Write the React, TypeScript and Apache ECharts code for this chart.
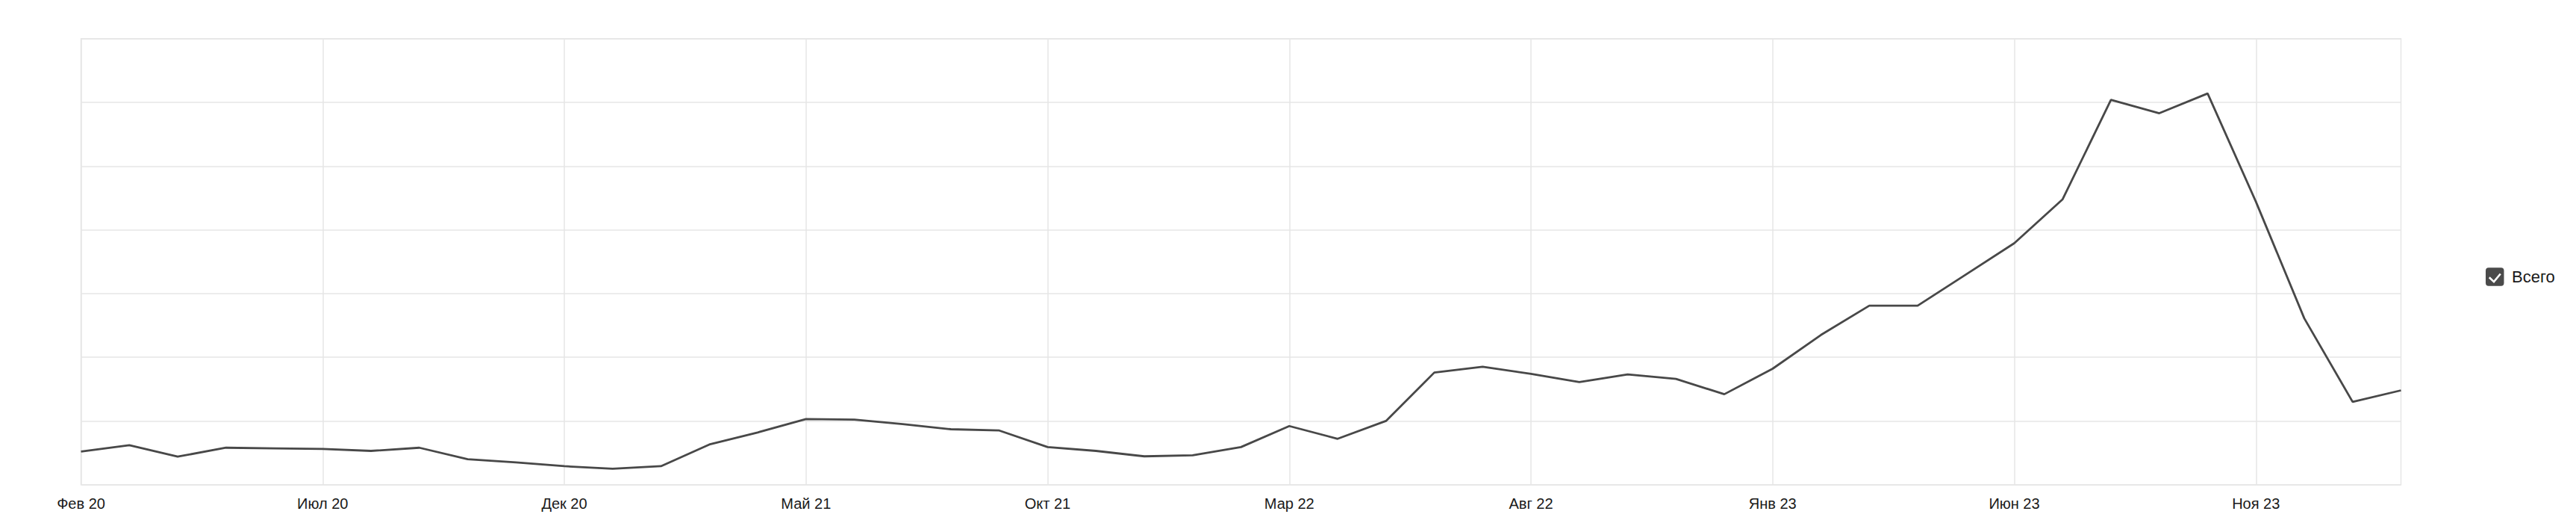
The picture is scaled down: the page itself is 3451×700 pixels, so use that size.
import React, { useEffect, useRef } from "react";
import * as echarts from "echarts";

const months: string[] = [
  "Фев 20", "Мар 20", "Апр 20", "Май 20", "Июн 20", "Июл 20", "Авг 20", "Сен 20", "Окт 20", "Ноя 20", "Дек 20",
  "Янв 21", "Фев 21", "Мар 21", "Апр 21", "Май 21", "Июн 21", "Июл 21", "Авг 21", "Сен 21", "Окт 21", "Ноя 21", "Дек 21",
  "Янв 22", "Фев 22", "Мар 22", "Апр 22", "Май 22", "Июн 22", "Июл 22", "Авг 22", "Сен 22", "Окт 22", "Ноя 22", "Дек 22",
  "Янв 23", "Фев 23", "Мар 23", "Апр 23", "Май 23", "Июн 23", "Июл 23", "Авг 23", "Сен 23", "Окт 23", "Ноя 23", "Дек 23",
  "Янв 24", "Фев 24",
];

const totalValues: number[] = [
  52, 62, 44, 58, 57, 56, 53, 58, 40, 35, 29,
  25, 29, 63, 82, 103, 102, 95, 87, 85, 59, 53, 44.5,
  46, 59, 92, 72, 100, 176, 185, 174, 161, 173, 166, 142,
  182, 235, 281, 281, 330, 379, 448, 604, 583, 614, 444, 261,
  130, 148,
];

const seriesName = "Всего";
const yMax = 700;
const yStep = 100;

const FONT = "'Liberation Sans', Arial, sans-serif";

export default function App() {
  const ref = useRef<HTMLDivElement>(null);

  useEffect(() => {
    if (!ref.current) return;
    const chart = echarts.init(ref.current, null, { renderer: "svg" });
    chart.setOption({
      animation: false,
      backgroundColor: "#ffffff",
      grid: {
        left: 108.5,
        right: 234.5,
        top: 51.8,
        bottom: 51.3,
        show: true,
        borderColor: "#e6e6e6",
        borderWidth: 1.5,
        containLabel: false,
      },
      xAxis: {
        type: "category",
        data: months,
        boundaryGap: false,
        axisLine: { show: false },
        axisTick: { show: false },
        axisLabel: {
          interval: 4,
          margin: 15,
          fontSize: 20,
          fontFamily: FONT,
          color: "#1a1a1a",
        },
        splitLine: {
          show: true,
          interval: 4,
          lineStyle: { color: "#e6e6e6", width: 1.5 },
        },
      },
      yAxis: {
        type: "value",
        min: 0,
        max: yMax,
        interval: yStep,
        axisLine: { show: false },
        axisTick: { show: false },
        axisLabel: { show: false },
        splitLine: { show: true, lineStyle: { color: "#e6e6e6", width: 1.5 } },
      },
      series: [
        {
          name: seriesName,
          type: "line",
          data: totalValues,
          showSymbol: false,
          symbol: "none",
          lineStyle: { color: "#484848", width: 2.8 },
          itemStyle: { color: "#484848" },
        },
      ],
      graphic: [
        {
          type: "group",
          x: 3330,
          y: 358.3,
          children: [
            {
              type: "rect",
              shape: { x: 0, y: 0, width: 24.5, height: 24.5, r: 4 },
              style: { fill: "#4a4a4a" },
            },
            {
              type: "polyline",
              shape: { points: [[4.8, 13], [11, 18.8], [19.8, 8.2]] },
              style: { stroke: "#ffffff", lineWidth: 2.6, fill: null },
            },
            {
              type: "text",
              x: 35,
              y: 12.5,
              style: {
                text: seriesName,
                fontSize: 22,
                fontFamily: FONT,
                fill: "#1a1a1a",
                verticalAlign: "middle",
                align: "left",
              },
            },
          ],
        },
      ],
    });
    return () => chart.dispose();
  }, []);

  return (
    <div
      ref={ref}
      style={{ position: "fixed", left: 0, top: 0, width: 3451, height: 700 }}
    />
  );
}
